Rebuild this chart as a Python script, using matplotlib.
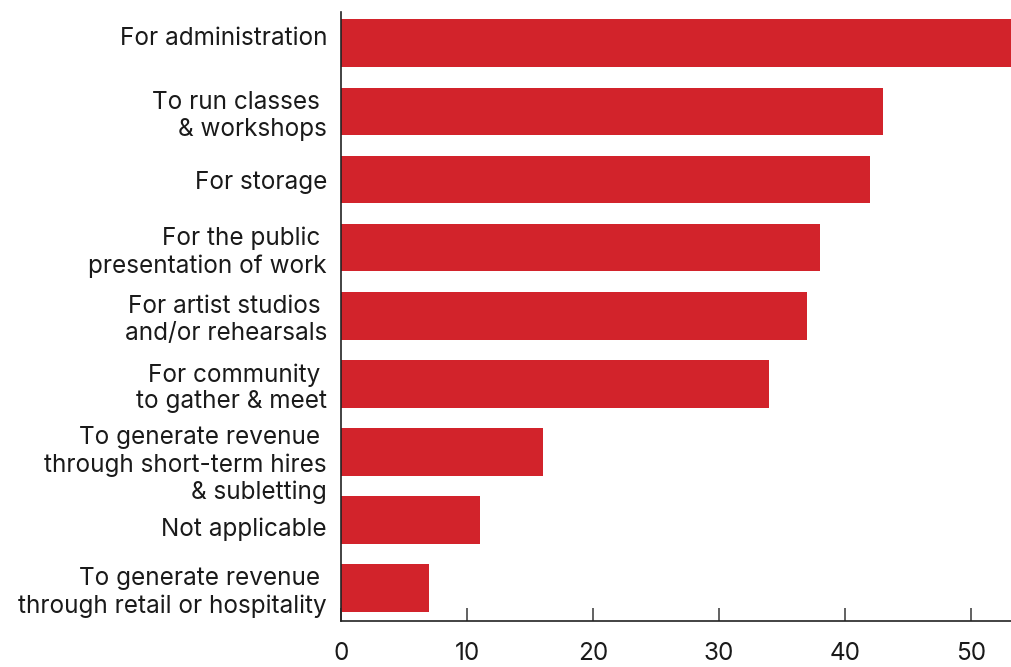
import matplotlib.pyplot as plt
import matplotlib.transforms as mtransforms

# uses of the space, top to bottom
categories = [
    "For administration",
    "To run classes \n& workshops",
    "For storage",
    "For the public \npresentation of work",
    "For artist studios \nand/or rehearsals",
    "For community \nto gather & meet",
    "To generate revenue \nthrough short-term hires\n& subletting",
    "Not applicable",
    "To generate revenue \nthrough retail or hospitality",
]
values = [55, 43, 42, 38, 37, 34, 16, 11, 7]
x_ticks = [0, 10, 20, 30, 40, 50]

plt.rcParams['font.family'] = ['Inter', 'DejaVu Sans']

fig = plt.figure(figsize=(10.11, 6.67), dpi=100)
ax = fig.add_axes([0.3373, 0.0694, 0.6627, 0.9126])

ypos = list(range(len(categories)))
ax.barh(ypos, values, height=0.7, color="#d2232b")

ax.set_xlim(0, 53.2)
ax.set_ylim(8.48, -0.46)
ax.set_yticks(ypos)
ax.set_yticklabels(categories, fontsize=17.5, color="#1a1a1a", linespacing=1.22)
ax.set_xticks(x_ticks)
ax.set_xticklabels([str(t) for t in x_ticks], fontsize=17.5, color="#1a1a1a")

ax.tick_params(axis="y", length=0, pad=10)
ax.tick_params(axis="x", direction="in", length=9.5, width=1.3, color="#555555", pad=15)

# small vertical nudges (points) so a few labels sit like the printed layout
nudges = {0: 5, 6: -6.5, 7: -5}
for i, lab in enumerate(ax.get_yticklabels()):
    if i in nudges:
        shift = mtransforms.ScaledTranslation(0, nudges[i] / 72, fig.dpi_scale_trans)
        lab.set_transform(lab.get_transform() + shift)

for side in ("top", "right"):
    ax.spines[side].set_visible(False)
for side in ("left", "bottom"):
    ax.spines[side].set_linewidth(1.2)
    ax.spines[side].set_color("#222222")

fig.savefig("out.png", dpi=100)
